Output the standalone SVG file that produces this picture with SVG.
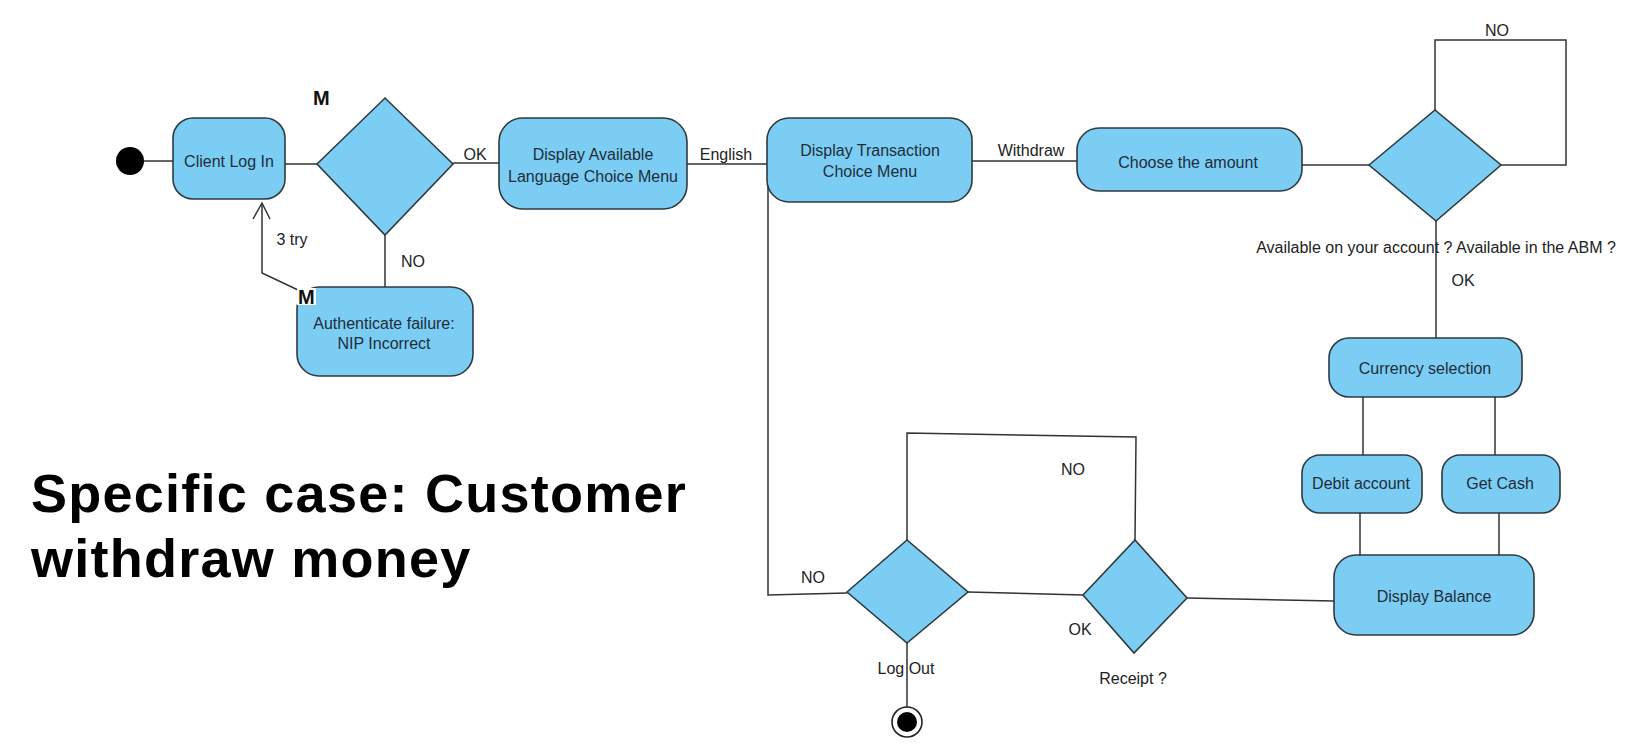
<svg xmlns="http://www.w3.org/2000/svg" width="1645" height="744" viewBox="0 0 1645 744">
<style>
.n{fill:#7bcdf3;stroke:#2f3a40;stroke-width:1.6}
.t{font-family:"Liberation Sans",Arial,sans-serif;font-size:16px;fill:#1f2d3a;text-anchor:middle}
.l{font-family:"Liberation Sans",Arial,sans-serif;font-size:16px;fill:#222;text-anchor:middle}
.e{fill:none;stroke:#333;stroke-width:1.5}
.m{font-family:"Liberation Sans",Arial,sans-serif;font-size:20px;font-weight:bold;fill:#111}
.h{font-family:"Liberation Sans",Arial,sans-serif;font-size:54px;font-weight:bold;fill:#000;letter-spacing:1.25px}
</style>
<rect width="1645" height="744" fill="#fff"/>
<g id="start"><circle cx="130" cy="161" r="14" fill="#000"/></g>
<g id="client-log-in"><rect class="n" x="173" y="118" width="112" height="81" rx="20"/><text class="t" x="229" y="167">Client Log In</text></g>
<g id="auth-decision"><polygon class="n" points="317,164 385,98 453,164 385,235"/></g>
<text class="m" x="313" y="105">M</text>
<g id="auth-failure"><rect class="n" x="297" y="287" width="176" height="89" rx="22"/><text class="t" x="384" y="329">Authenticate failure:</text><text class="t" x="384" y="349">NIP Incorrect</text></g>
<g id="language-menu"><rect class="n" x="499" y="118" width="188" height="91" rx="24"/><text class="t" x="593" y="160">Display Available</text><text class="t" x="593" y="182">Language Choice Menu</text></g>
<g id="transaction-menu"><rect class="n" x="767" y="118" width="205" height="84" rx="22"/><text class="t" x="870" y="156">Display Transaction</text><text class="t" x="870" y="177">Choice Menu</text></g>
<g id="choose-amount"><rect class="n" x="1077" y="128" width="225" height="63" rx="22"/><text class="t" x="1188" y="168">Choose the amount</text></g>
<g id="amount-decision"><polygon class="n" points="1369,165 1435,110 1501,165 1436,221"/></g>
<g id="currency-selection"><rect class="n" x="1329" y="338" width="193" height="59" rx="20"/><text class="t" x="1425" y="374">Currency selection</text></g>
<g id="debit-account"><rect class="n" x="1302" y="455" width="120" height="58" rx="18"/><text class="t" x="1361" y="489">Debit account</text></g>
<g id="get-cash"><rect class="n" x="1442" y="455" width="118" height="58" rx="18"/><text class="t" x="1500" y="489">Get Cash</text></g>
<g id="display-balance"><rect class="n" x="1334" y="555" width="200" height="80" rx="22"/><text class="t" x="1434" y="602">Display Balance</text></g>
<g id="receipt-decision"><polygon class="n" points="1083,595 1135,540 1187,598 1134,653"/></g>
<g id="logout-decision"><polygon class="n" points="847,592 907,540 968,592 907,643"/></g>
<g id="end"><circle cx="907" cy="722" r="15" fill="#fff" stroke="#222" stroke-width="1.6"/><circle cx="907" cy="722" r="10" fill="#000"/></g>
<g id="connectors">
<path class="e" d="M144,161 H173"/>
<path class="e" d="M285,164 H317"/>
<path class="e" d="M453,163 H499"/>
<path class="e" d="M385,235 V287"/>
<path class="e" d="M298,290 L262,273 V203"/>
<path class="e" d="M253,219 L262,203 L270,219"/>
<path class="e" d="M687,164 H767"/>
<path class="e" d="M972,161 H1077"/>
<path class="e" d="M1302,165 H1369"/>
<path class="e" d="M1435,110 V40 H1566 V165 H1501"/>
<path class="e" d="M1436,221 V338"/>
<path class="e" d="M1363,397 V455"/>
<path class="e" d="M1495,397 V455"/>
<path class="e" d="M1360,513 V555"/>
<path class="e" d="M1499,513 V555"/>
<path class="e" d="M1334,601 L1187,598"/>
<path class="e" d="M1083,595 L968,592"/>
<path class="e" d="M1135,540 L1136,437 L907,433 V540"/>
<path class="e" d="M768,186 V595 L847,593"/>
<path class="e" d="M907,643 V707"/>
<text class="l" x="475" y="160">OK</text>
<text class="l" x="413" y="267">NO</text>
<text class="l" x="292" y="245">3 try</text>
<text class="l" x="726" y="160">English</text>
<text class="l" x="1031" y="156">Withdraw</text>
<text class="l" x="1497" y="36">NO</text>
<text class="l" x="1436" y="253">Available on your account ? Available in the ABM ?</text>
<text class="l" x="1463" y="286">OK</text>
<text class="l" x="1073" y="475">NO</text>
<text class="l" x="813" y="583">NO</text>
<text class="l" x="1080" y="635">OK</text>
<text class="l" x="906" y="674">Log Out</text>
<text class="l" x="1133" y="684">Receipt ?</text>
</g>
<g id="m2"><rect x="297" y="288" width="19" height="17" fill="#fff"/><text class="m" x="298" y="304">M</text></g>
<g id="title"><text class="h" x="31" y="512">Specific case: Customer</text><text class="h" x="31" y="577">withdraw money</text></g>
</svg>
